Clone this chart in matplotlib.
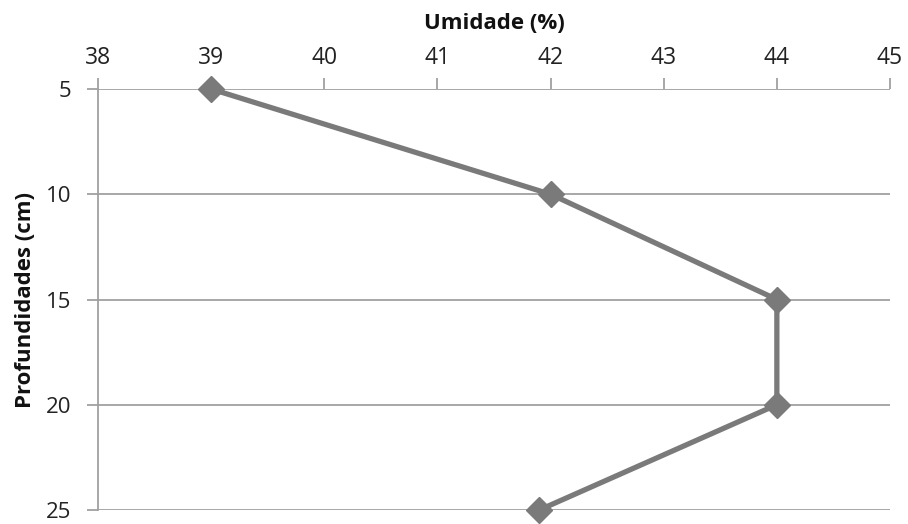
import matplotlib
matplotlib.use("Agg")
import matplotlib.pyplot as plt

umidade = [39, 42, 44, 44, 41.9]
profundidade = [5, 10, 15, 20, 25]
x_ticks = [38, 39, 40, 41, 42, 43, 44, 45]
y_ticks = [5, 10, 15, 20, 25]

plt.rcParams['font.family'] = ['Open Sans', 'DejaVu Sans']

fig = plt.figure(figsize=(9.08, 5.24), dpi=100)
ax = fig.add_axes([98/908, 1-510/524, (890-98)/908, (510-89)/524])

grid_c = '#a0a0a0'
ax.set_xlim(38, 45)
ax.set_ylim(25, 5)
ax.set_xticks(x_ticks)
ax.set_yticks(y_ticks)
for y in y_ticks:
    ax.axhline(y, color=grid_c, lw=1.3, zorder=1)

ax.plot(umidade, profundidade, color='#7a7a7a', lw=3.8, marker='D', ms=13,
        markerfacecolor='#7a7a7a', markeredgecolor='#7a7a7a', zorder=3, clip_on=False)

ax.xaxis.tick_top()
ax.xaxis.set_label_position('top')
for s in ['right', 'bottom', 'top']:
    ax.spines[s].set_visible(False)
ax.spines['left'].set_color(grid_c)
ax.spines['left'].set_linewidth(1.3)
ax.tick_params(axis='x', colors=grid_c, length=8, width=1.3, labelcolor='#222222', labelsize=16.5, pad=6)
ax.tick_params(axis='y', colors=grid_c, length=8, width=1.3, labelcolor='#222222', labelsize=16, pad=11)

ax.set_xlabel('Umidade (%)', fontsize=16, fontweight='bold', labelpad=12, color='#111111')
ax.set_ylabel('Profundidades (cm)', fontsize=16, fontweight='bold', labelpad=7, color='#111111')

fig.savefig('out.png', dpi=100)
